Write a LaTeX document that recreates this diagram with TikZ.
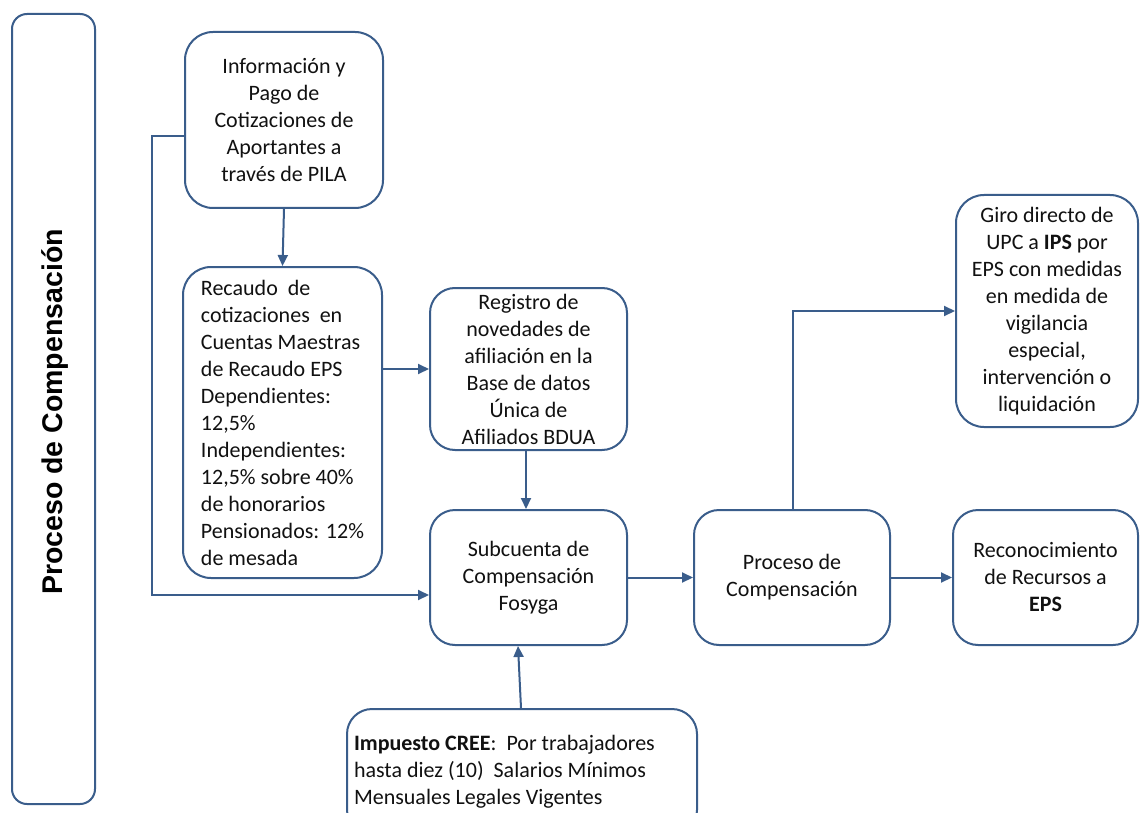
\documentclass[tikz,border=0pt]{standalone}
\usepackage{fontspec}
\setmainfont{Carlito}
\newfontfamily\labelfont{Liberation Sans}
\usetikzlibrary{arrows.meta,calc}
\definecolor{lineblue}{HTML}{3A5D8B}
\definecolor{txt}{HTML}{111111}
\begin{document}
\begin{tikzpicture}[x=1pt,y=-1pt,
  box/.style={draw=lineblue, line width=2pt, rounded corners=28pt, inner sep=0pt,
    align=center, text=txt, font=\fontsize{22}{27}\selectfont},
  conn/.style={draw=lineblue, line width=2pt},
  arr/.style={conn, -{Triangle[length=11pt,width=10pt]}}]
\useasboundingbox (0,0) rectangle (1140,813);
\fill[white] (0,0) rectangle (1140,813);
\clip (0,0) rectangle (1140,813);

\node[box, rounded corners=15pt, minimum width=83pt, minimum height=790pt] (L) at (53.5,409) {};
\node[rotate=90, text=black, inner sep=0pt, font=\labelfont\bfseries\fontsize{28.5}{32}\selectfont] (lbl) at (55,412) {Proceso de Compensación};

\node[box, minimum width=198pt, minimum height=176pt] (A) at (284,120)
  {Información y\\Pago de\\Cotizaciones de\\Aportantes a\\través de PILA};
\node[box, minimum width=199pt, minimum height=311pt, align=flush left] (B) at (282.5,422.5)
  {Recaudo\ \ de\\cotizaciones\ \ en\\Cuentas Maestras\\de Recaudo EPS\\Dependientes:\\12,5\%\\Independientes:\\12,5\% sobre 40\%\\de honorarios\\Pensionados: 12\%\\de mesada};
\node[box, rounded corners=25pt, minimum width=197pt, minimum height=162pt] (C) at (528.5,369)
  {Registro de\\novedades de\\afiliación en la\\Base de datos\\Única de\\Afiliados BDUA};
\node[box, rounded corners=25pt, minimum width=197pt, minimum height=135pt] (D) at (528.5,577.5)
  {Subcuenta de\\Compensación\\Fosyga};
\node[box, rounded corners=25pt, minimum width=196pt, minimum height=135pt] (E) at (792,577.5)
  {Proceso de\\Compensación};
\node[box, rounded corners=25pt, minimum width=185pt, minimum height=135pt] (F) at (1045.5,577.5)
  {Reconocimiento\\de Recursos a\\\textbf{EPS}};
\node[box, rounded corners=28pt, minimum width=182pt, minimum height=232pt] (G) at (1047,311)
  {Giro directo de\\UPC a \textbf{IPS} por\\EPS con medidas\\en medida de\\vigilancia\\especial,\\intervención o\\liquidación};
\node[box, rounded corners=25pt, minimum width=350pt, minimum height=126pt, text width=336pt, align=flush left] (H) at (522,772)
  {\textbf{Impuesto CREE}:\ \ Por trabajadores\\hasta diez (10)\ \ Salarios Mínimos\\Mensuales Legales Vigentes};

\draw[arr] (A.south) -- (B.north);
\draw[arr] ([yshift=-16pt]A.west) -- ++(-32,0) |- ([yshift=-17.5pt]D.west);
\draw[arr] (B.east |- C.west) -- (C.west);
\draw[arr] ([xshift=-2.5pt]C.south) -- ([xshift=-2.5pt]D.north);
\draw[arr] (D) -- (E);
\draw[arr] (E) -- (F);
\draw[arr] ([xshift=1pt]E.north) |- (G.west);
\draw[arr] ([xshift=-1pt]H.north) -- ([xshift=-10.5pt]D.south);
\end{tikzpicture}
\end{document}
